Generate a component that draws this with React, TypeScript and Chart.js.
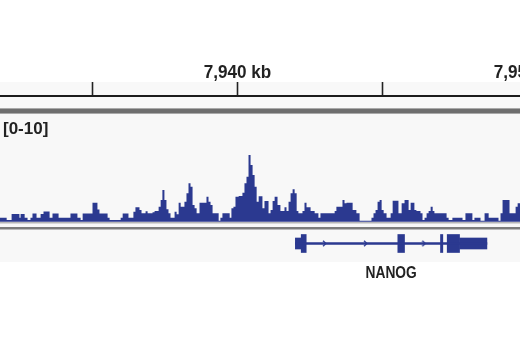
import React, { useEffect, useRef } from 'react';
import { Chart, registerables } from 'chart.js';

Chart.register(...registerables);

// ---------- data ----------
const X_MIN_KB = 7931.81;
const X_MAX_KB = 7952.5;
const TICKS_KB = [7935, 7940, 7945, 7950];
const MAJOR_TICKS_KB = [7940, 7950];
const TICK_UNIT = 'kb';

const DATA_RANGE = [0, 10];

const SIGNAL_START_KB = [
  7931.80, 7932.04, 7932.21, 7932.48, 7932.52, 7932.66, 7932.76, 7932.86, 7932.93, 7933.07,
  7933.21, 7933.31, 7933.52, 7933.62, 7933.83, 7934.24, 7934.48, 7934.59, 7934.66, 7935.00,
  7935.17, 7935.24, 7935.52, 7935.59, 7935.97, 7936.04, 7936.24, 7936.41, 7936.48, 7936.62,
  7936.69, 7936.83, 7936.90, 7937.07, 7937.14, 7937.28, 7937.35, 7937.41, 7937.48, 7937.55,
  7937.62, 7937.69, 7937.83, 7937.90, 7937.97, 7938.04, 7938.17, 7938.24, 7938.31, 7938.38,
  7938.45, 7938.52, 7938.59, 7938.69, 7938.93, 7939.00, 7939.07, 7939.14, 7939.35, 7939.41,
  7939.48, 7939.73, 7939.79, 7939.86, 7939.93, 7940.04, 7940.17, 7940.24, 7940.31, 7940.38,
  7940.45, 7940.52, 7940.59, 7940.66, 7940.73, 7940.86, 7940.93, 7941.07, 7941.14, 7941.21,
  7941.28, 7941.38, 7941.48, 7941.62, 7941.69, 7941.76, 7941.83, 7941.90, 7941.97, 7942.04,
  7942.10, 7942.24, 7942.31, 7942.38, 7942.52, 7942.66, 7942.79, 7942.86, 7943.35, 7943.41,
  7943.62, 7943.69, 7943.76, 7943.97, 7944.10, 7944.21, 7944.62, 7944.69, 7944.76, 7944.83,
  7944.90, 7944.97, 7945.04, 7945.14, 7945.28, 7945.35, 7945.55, 7945.66, 7945.76, 7945.90,
  7945.97, 7946.10, 7946.17, 7946.31, 7946.38, 7946.45, 7946.52, 7946.59, 7946.66, 7946.73,
  7946.79, 7947.21, 7947.28, 7947.41, 7947.76, 7947.86, 7948.10, 7948.17, 7948.38, 7948.52,
  7948.66, 7949.00, 7949.07, 7949.14, 7949.38, 7949.59, 7949.66,
];
const SIGNAL_VALUE = [
  0.37, 0.16, 0.71, 0.37, 0.71, 0.37, 0.16, 0.37, 0.77, 0.37,
  0.71, 0.95, 0.37, 0.77, 0.37, 0.77, 0.37, 0.16, 0.77, 1.76,
  1.14, 0.77, 0.37, 0.16, 0.37, 0.77, 0.37, 0.93, 1.33, 1.08,
  0.78, 0.96, 0.78, 0.87, 0.99, 1.39, 2.01, 2.94, 2.01, 1.15,
  0.78, 0.37, 0.93, 0.69, 1.76, 1.39, 1.85, 2.63, 3.56, 3.24,
  1.55, 1.24, 0.78, 1.76, 2.31, 1.85, 1.55, 0.78, 0.09, 0.37,
  0.78, 0.37, 1.24, 1.39, 2.31, 2.38, 2.69, 3.56, 4.17, 6.18,
  5.25, 4.32, 3.24, 1.85, 2.36, 1.24, 1.92, 0.78, 1.08, 1.92,
  2.31, 1.55, 0.99, 1.33, 0.99, 1.85, 2.63, 3.00, 2.63, 0.99,
  0.78, 0.99, 1.76, 1.33, 0.99, 0.78, 0.37, 0.78, 0.99, 1.39,
  2.01, 1.70, 1.76, 1.08, 0.78, 0.09, 0.37, 0.78, 1.08, 1.85,
  2.01, 1.08, 0.78, 0.37, 0.78, 1.94, 0.78, 1.70, 2.01, 1.08,
  1.76, 1.08, 0.99, 0.78, 0.16, 0.37, 0.78, 0.99, 1.39, 0.99,
  0.78, 0.37, 0.16, 0.37, 0.16, 0.78, 0.16, 0.37, 0.09, 0.78,
  0.37, 0.09, 0.78, 2.01, 0.78, 1.39, 1.70,
];
const SIGNAL_END_KB = 7949.9;

const GENE_NAME = 'NANOG';
const GENE_SPAN_KB = [7941.995, 7948.6];
const UTR_KB = [
  [7941.995, 7942.197],
  [7947.656, 7948.6],
];
const CDS_KB = [
  [7942.197, 7942.369],
  [7945.528, 7945.759],
  [7947.0, 7947.08],
  [7947.231, 7947.656],
];
const STRAND_MARKS_KB = [7943.0, 7944.414, 7946.425];

// ---------- layout / style ----------
const CANVAS_W = 600;
const CANVAS_H = 350;
const VIEW_W = 520;
const AXIS_H = 96;
const SIG_ZERO_PX = 221.7;
const SIG_TOP_PX = 113.7;
const GENE_CENTER_PX = 243.5;
const NAVY = '#2b3990';
const DARK = '#222222';
const SANS = "'Liberation Sans', Arial, sans-serif";

function axisRange(v0: number, p0: number, v1: number, p1: number, top: number, bottom: number) {
  const k = (p0 - p1) / (v1 - v0);
  return { min: v0 - (bottom - p0) / k, max: v1 + (p1 - top) / k };
}

function fmtKb(v: number) {
  return `${v.toLocaleString('en-US')} ${TICK_UNIT}`;
}

function drawCondensed(ctx: CanvasRenderingContext2D, text: string, x: number, y: number, sx: number, align: 'left' | 'center') {
  ctx.save();
  ctx.translate(x, y);
  ctx.scale(sx, 1);
  ctx.textAlign = align;
  ctx.fillText(text, 0, 0);
  ctx.restore();
}

const backgroundPlugin = {
  id: 'bg',
  beforeDraw(chart: any) {
    const { ctx, width } = chart;
    ctx.save();
    ctx.fillStyle = '#ffffff';
    ctx.fillRect(0, 0, width, chart.height);
    ctx.fillStyle = '#f8f8f8';
    ctx.fillRect(0, 82, width, 180);
    ctx.restore();
  },
};

const dividerPlugin = {
  id: 'dividers',
  afterDatasetsDraw(chart: any) {
    const { ctx, width } = chart;
    ctx.save();
    ctx.fillStyle = '#a9a9a9';
    ctx.fillRect(0, 108, width, 6);
    ctx.fillStyle = '#6e6e6e';
    ctx.fillRect(0, 109, width, 4);
    ctx.fillStyle = '#b8b8b8';
    ctx.fillRect(0, 222, width, 1.5);
    ctx.fillStyle = '#7c7c7c';
    ctx.fillRect(0, 227, width, 2.5);
    ctx.restore();
  },
};

const labelPlugin = {
  id: 'trackLabels',
  afterDraw(chart: any) {
    const { ctx } = chart;
    const x = chart.scales.x;
    ctx.save();
    ctx.fillStyle = DARK;
    ctx.textBaseline = 'alphabetic';
    // ruler labels
    ctx.font = `bold 19px ${SANS}`;
    for (const t of x.ticks) {
      if (MAJOR_TICKS_KB.includes(t.value)) {
        drawCondensed(ctx, fmtKb(t.value), x.getPixelForValue(t.value), 78, 0.9, 'center');
      }
    }
    // data range
    ctx.font = `bold 17px ${SANS}`;
    drawCondensed(ctx, `[${DATA_RANGE[0]}-${DATA_RANGE[1]}]`, 3, 134, 1, 'left');
    // gene name
    ctx.font = `bold 16.4px ${SANS}`;
    const cx = x.getPixelForValue((GENE_SPAN_KB[0] + GENE_SPAN_KB[1]) / 2);
    drawCondensed(ctx, GENE_NAME, cx, 278.3, 0.84, 'center');
    ctx.restore();
  },
};

function makeChevron(): HTMLCanvasElement {
  const c = document.createElement('canvas');
  c.width = 5;
  c.height = 7;
  const g = c.getContext('2d')!;
  g.strokeStyle = NAVY;
  g.lineWidth = 1.3;
  g.beginPath();
  g.moveTo(1, 0.8);
  g.lineTo(3.8, 3.5);
  g.lineTo(1, 6.2);
  g.stroke();
  return c;
}

export default function App() {
  const ref = useRef<HTMLCanvasElement | null>(null);

  useEffect(() => {
    document.body.style.margin = '0';
    if (!ref.current) return;
    const sig = axisRange(0, SIG_ZERO_PX, DATA_RANGE[1], SIG_TOP_PX, AXIS_H, CANVAS_H);
    const gene = axisRange(0, GENE_CENTER_PX, 1, GENE_CENTER_PX - 1, AXIS_H, CANVAS_H);

    const signalPoints = SIGNAL_START_KB.map((x, i) => ({ x, y: SIGNAL_VALUE[i] }));
    signalPoints.push({ x: SIGNAL_END_KB, y: SIGNAL_VALUE[SIGNAL_VALUE.length - 1] });

    const chart = new Chart(ref.current, {
      type: 'line',
      data: {
        datasets: [
          {
            type: 'line',
            data: signalPoints,
            xAxisID: 'x',
            yAxisID: 'ySig',
            stepped: 'before',
            fill: 'origin',
            backgroundColor: NAVY,
            borderColor: 'rgba(0,0,0,0)',
            borderWidth: 0,
            pointRadius: 0,
            tension: 0,
          },
          {
            type: 'bar',
            indexAxis: 'y',
            xAxisID: 'x',
            yAxisID: 'yGene',
            grouped: false,
            data: [{ x: GENE_SPAN_KB, y: 0 }],
            backgroundColor: NAVY,
            barThickness: 1.8,
          },
          {
            type: 'bar',
            indexAxis: 'y',
            xAxisID: 'x',
            yAxisID: 'yGene',
            grouped: false,
            data: UTR_KB.map((r) => ({ x: r, y: 0 })),
            backgroundColor: NAVY,
            barThickness: 11,
          },
          {
            type: 'bar',
            indexAxis: 'y',
            xAxisID: 'x',
            yAxisID: 'yGene',
            grouped: false,
            data: CDS_KB.map((r) => ({ x: r, y: 0 })),
            backgroundColor: NAVY,
            barThickness: 18,
          },
          {
            type: 'scatter',
            xAxisID: 'x',
            yAxisID: 'yGene',
            showLine: false,
            data: STRAND_MARKS_KB.map((x) => ({ x, y: 0 })),
            pointStyle: makeChevron(),
            pointRadius: 3,
          },
        ] as any,
      },
      options: {
        animation: false,
        responsive: false,
        devicePixelRatio: 1,
        events: [],
        layout: { padding: 0, autoPadding: false },
        plugins: { legend: { display: false }, tooltip: { enabled: false }, title: { display: false } },
        scales: {
          x: {
            type: 'linear',
            position: 'top',
            min: X_MIN_KB,
            max: X_MAX_KB,
            bounds: 'data',
            offset: false,
            beginAtZero: false,
            afterBuildTicks: (s: any) => {
              s.ticks = TICKS_KB.map((value) => ({ value }));
            },
            afterFit: (s: any) => {
              s.height = AXIS_H;
              s.paddingLeft = 0;
              s.paddingRight = 0;
            },
            grid: {
              offset: false,
              drawOnChartArea: false,
              drawTicks: true,
              tickLength: 14,
              tickColor: DARK,
              tickWidth: 1.6,
              color: DARK,
            },
            border: { display: true, color: '#1c1c1c', width: 2 },
            ticks: {
              display: false,
              autoSkip: false,
              maxRotation: 0,
              minRotation: 0,
            },
          },
          ySig: {
            type: 'linear',
            display: false,
            bounds: 'data',
            offset: false,
            min: sig.min,
            max: sig.max,
          },
          yGene: {
            type: 'linear',
            display: false,
            bounds: 'data',
            offset: false,
            grid: { offset: false },
            min: gene.min,
            max: gene.max,
          },
        } as any,
      },
      plugins: [backgroundPlugin, dividerPlugin, labelPlugin],
    });

    return () => chart.destroy();
  }, []);

  return (
    <div style={{ width: VIEW_W, height: CANVAS_H, overflow: 'hidden', position: 'relative' }}>
      <canvas ref={ref} width={CANVAS_W} height={CANVAS_H} style={{ display: 'block', width: CANVAS_W, height: CANVAS_H }} />
    </div>
  );
}
